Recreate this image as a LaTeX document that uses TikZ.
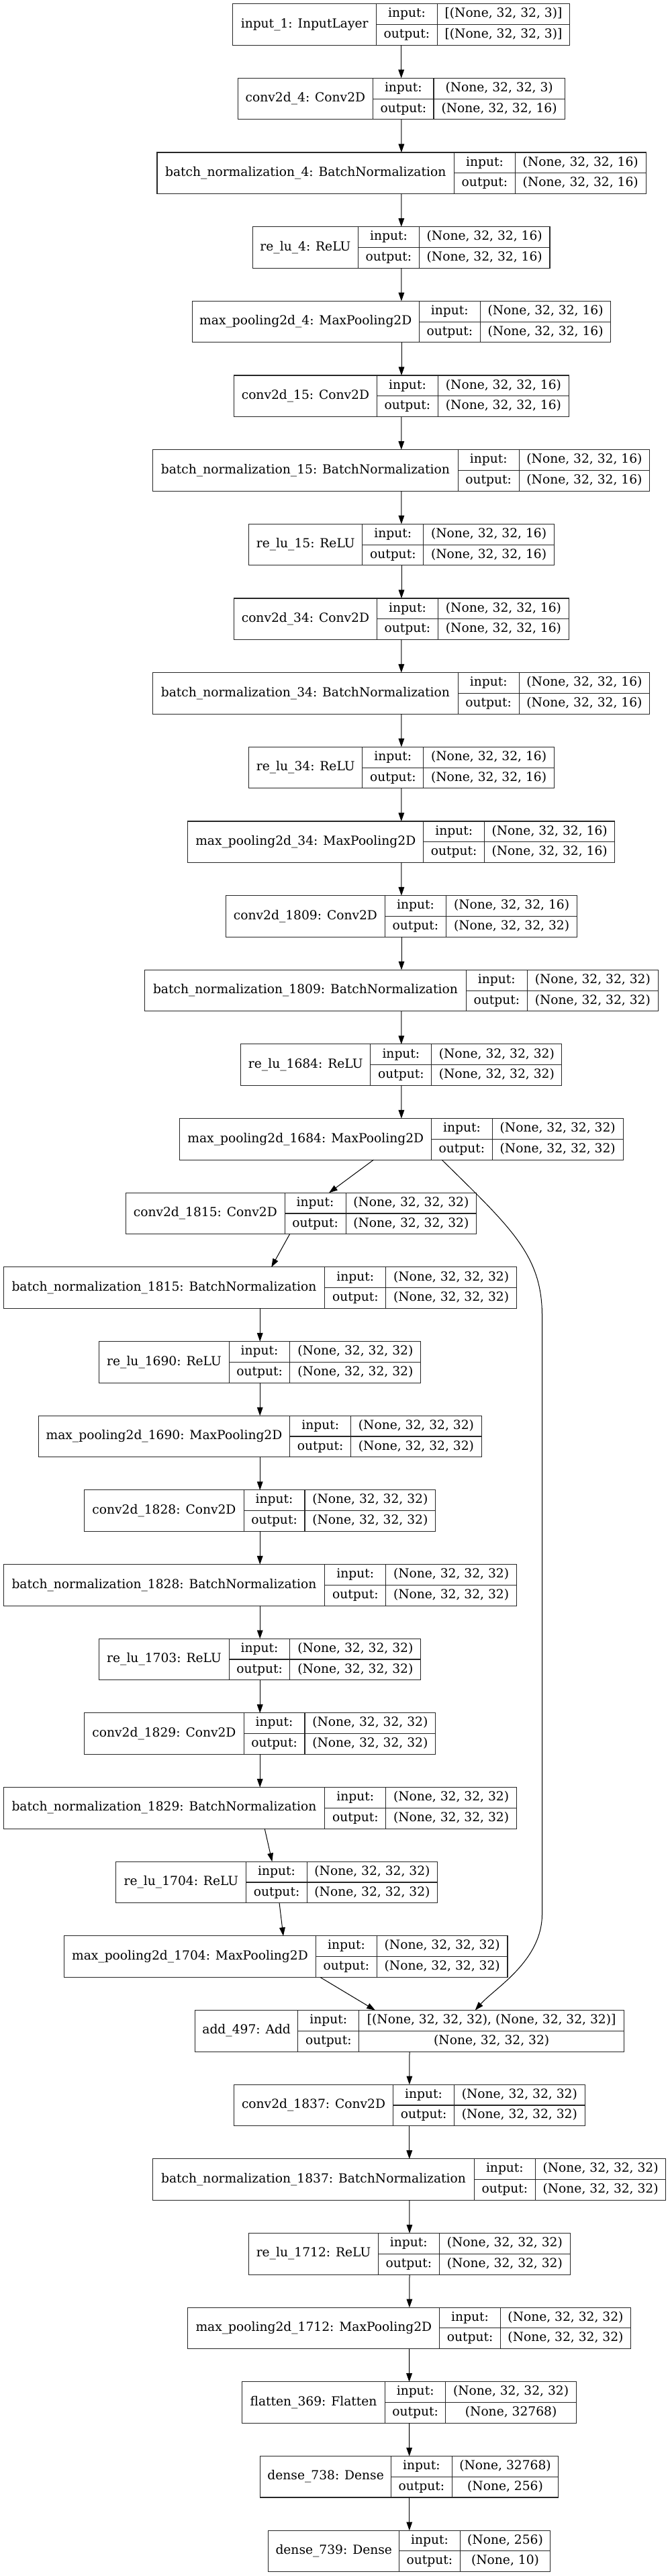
\documentclass[tikz,border=0pt]{standalone}
\usepackage{fontspec}
\setmainfont{DejaVu Serif}
\usetikzlibrary{arrows.meta,calc}
\newcommand\klayer[8]{%
 \pgfmathsetmacro\kt{5.7+(#1-1)*110.66}%
 \pgfmathsetmacro\kb{\kt+61.5}%
 \pgfmathsetmacro\km{\kt+30.75}%
 \pgfmathsetmacro\ku{\kt+15.4}%
 \pgfmathsetmacro\kd{\kt+46.1}%
 \pgfmathsetmacro\kw{(#5-#2)*0.47688}%
 \node[lbox, minimum width=\kw pt] (n#1) at ({(#2+#5)/2},\km) {};
 \draw[cell] (#3,\kt) -- (#3,\kb) (#4,\kt) -- (#4,\kb) (#3,\km) -- (#5,\km);
 \node[txt] (t#1) at ({(#2+#3)/2},\km) {#6};
 \node[txt] (i#1) at ({(#3+#4)/2},\ku) {input:};
 \node[txt] (o#1) at ({(#3+#4)/2},\kd) {output:};
 \node[txt] (vi#1) at ({(#4+#5)/2},\ku) {#7};
 \node[txt] (vo#1) at ({(#4+#5)/2},\kd) {#8};
}
\begin{document}
\begin{tikzpicture}[x=0.47688pt, y=-0.75pt,
  lbox/.style={draw=black!85, line width=0.8pt, inner sep=0pt, outer sep=0pt, minimum height=46.125pt},
  cell/.style={draw=black!85, line width=0.8pt},
  txt/.style={inner sep=0pt, font=\fontsize{14pt}{16pt}\selectfont, text height=10pt, text depth=3pt},
  arr/.style={draw=black, line width=0.75pt, -{Triangle[length=9.5pt,width=6.5pt]}}]
\fill[white] (0,0) rectangle (1568,3836);
\def\sa{(None, 32, 32, 16)}
\def\sb{(None, 32, 32, 32)}
\klayer{1}{545}{882}{1024}{1335}{input\_1: InputLayer}{[(None, 32, 32, 3)]}{[(None, 32, 32, 3)]}
\klayer{2}{557}{874}{1016}{1323}{conv2d\_4: Conv2D}{(None, 32, 32, 3)}{\sa}
\klayer{3}{368}{1064}{1207}{1513}{batch\_normalization\_4: BatchNormalization}{\sa}{\sa}
\klayer{4}{592}{839}{982}{1288}{re\_lu\_4: ReLU}{\sa}{\sa}
\klayer{5}{450}{982}{1125}{1431}{max\_pooling2d\_4: MaxPooling2D}{\sa}{\sa}
\klayer{6}{548}{883}{1026}{1333}{conv2d\_15: Conv2D}{\sa}{\sa}
\klayer{7}{358}{1073}{1216}{1522}{batch\_normalization\_15: BatchNormalization}{\sa}{\sa}
\klayer{8}{583}{849}{992}{1298}{re\_lu\_15: ReLU}{\sa}{\sa}
\klayer{9}{548}{883}{1026}{1333}{conv2d\_34: Conv2D}{\sa}{\sa}
\klayer{10}{358}{1073}{1216}{1522}{batch\_normalization\_34: BatchNormalization}{\sa}{\sa}
\klayer{11}{583}{849}{992}{1298}{re\_lu\_34: ReLU}{\sa}{\sa}
\klayer{12}{440}{992}{1135}{1440}{max\_pooling2d\_34: MaxPooling2D}{\sa}{\sa}
\klayer{13}{529}{902}{1045}{1352}{conv2d\_1809: Conv2D}{\sa}{\sb}
\klayer{14}{339}{1092}{1235}{1542}{batch\_normalization\_1809: BatchNormalization}{\sb}{\sb}
\klayer{15}{564}{868}{1011}{1316}{re\_lu\_1684: ReLU}{\sb}{\sb}
\klayer{16}{421}{1011}{1153}{1460}{max\_pooling2d\_1684: MaxPooling2D}{\sb}{\sb}
\klayer{17}{295}{667}{810}{1116}{conv2d\_1815: Conv2D}{\sb}{\sb}
\klayer{18}{8}{761}{904}{1210}{batch\_normalization\_1815: BatchNormalization}{\sb}{\sb}
\klayer{19}{232}{537}{679}{986}{re\_lu\_1690: ReLU}{\sb}{\sb}
\klayer{20}{90}{679}{822}{1128}{max\_pooling2d\_1690: MaxPooling2D}{\sb}{\sb}
\klayer{21}{198}{571}{714}{1020}{conv2d\_1828: Conv2D}{\sb}{\sb}
\klayer{22}{8}{761}{904}{1210}{batch\_normalization\_1828: BatchNormalization}{\sb}{\sb}
\klayer{23}{232}{537}{679}{986}{re\_lu\_1703: ReLU}{\sb}{\sb}
\klayer{24}{198}{571}{714}{1020}{conv2d\_1829: Conv2D}{\sb}{\sb}
\klayer{25}{8}{761}{904}{1210}{batch\_normalization\_1829: BatchNormalization}{\sb}{\sb}
\klayer{26}{272}{577}{719}{1025}{re\_lu\_1704: ReLU}{\sb}{\sb}
\klayer{27}{150}{740}{883}{1189}{max\_pooling2d\_1704: MaxPooling2D}{\sb}{\sb}
\klayer{28}{457}{698}{841}{1462}{add\_497: Add}{[(None, 32, 32, 32), (None, 32, 32, 32)]}{\sb}
\klayer{29}{548}{921}{1064}{1370}{conv2d\_1837: Conv2D}{\sb}{\sb}
\klayer{30}{358}{1111}{1254}{1560}{batch\_normalization\_1837: BatchNormalization}{\sb}{\sb}
\klayer{31}{583}{886}{1029}{1336}{re\_lu\_1712: ReLU}{\sb}{\sb}
\klayer{32}{440}{1030}{1172}{1478}{max\_pooling2d\_1712: MaxPooling2D}{\sb}{\sb}
\klayer{33}{567}{902}{1044}{1350}{flatten\_369: Flatten}{\sb}{(None, 32768)}
\klayer{34}{610}{916}{1059}{1308}{dense\_738: Dense}{(None, 32768)}{(None, 256)}
\klayer{35}{629}{935}{1078}{1289}{dense\_739: Dense}{(None, 256)}{(None, 10)}
\foreach \a [evaluate=\a as \b using int(\a+1)] in {1,...,34} {
  \draw[arr] (n\a) -- (n\b);
}
\draw[arr] ($(n16.south)+(94.5,0)$) .. controls (1200,1830) and (1270,1870) .. (1270,1960)
  -- (1270,2850) .. controls (1270,2920) and (1160,2960) .. ($(n28.north)+(153.5,0)$);
\end{tikzpicture}
\end{document}
